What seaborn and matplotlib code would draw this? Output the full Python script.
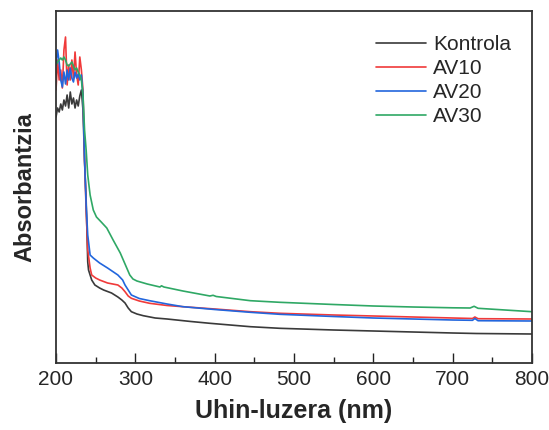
import numpy as np
import pandas as pd
import matplotlib
matplotlib.use("Agg")
import matplotlib.pyplot as plt
import seaborn as sns
from matplotlib.ticker import MultipleLocator

sns.set_theme(style="ticks")
plt.rcParams['font.family'] = ['Liberation Sans', 'DejaVu Sans']

# Wavelength (nm) and absorbance (arbitrary units)
kontrola_x = [200, 202, 204, 206, 208, 210, 212, 214, 216, 218, 220, 222, 224, 226, 228, 230, 232, 234, 236,
              238, 240, 241, 245, 249, 255, 260, 270, 278, 283, 287, 291, 295, 302, 310, 325, 340, 370, 394,
              445, 482, 550, 600, 650, 700, 730, 800]
kontrola_y = [2.46, 2.55, 2.51, 2.59, 2.53, 2.63, 2.57, 2.68, 2.55, 2.71, 2.59, 2.65, 2.55, 2.63, 2.57, 2.67,
              2.73, 2.53, 2.03, 1.63, 1.01, 0.93, 0.83, 0.78, 0.75, 0.73, 0.70, 0.66, 0.63, 0.60, 0.55, 0.513,
              0.49, 0.473, 0.45, 0.44, 0.415, 0.397, 0.363, 0.347, 0.33, 0.32, 0.31, 0.30, 0.295, 0.29]

av10_x = [200, 202, 204, 206, 208, 210, 212, 214, 216, 218, 220, 222, 224, 226, 228, 230, 232, 234, 236,
          238, 240, 243, 245, 250, 255, 265, 278, 283, 287, 291, 295, 305, 318, 340, 360, 400, 445, 482,
          550, 600, 650, 700, 725, 728, 732, 800]
av10_y = [2.73, 3.03, 2.83, 2.93, 2.75, 3.13, 3.26, 2.78, 2.98, 2.83, 3.03, 2.85, 3.11, 2.88, 2.78, 3.06,
          2.93, 2.73, 2.03, 1.53, 1.13, 0.95, 0.88, 0.85, 0.83, 0.80, 0.78, 0.75, 0.713, 0.67, 0.647, 0.62,
          0.597, 0.575, 0.563, 0.54, 0.513, 0.497, 0.48, 0.47, 0.46, 0.45, 0.445, 0.46, 0.443, 0.44]

av20_x = [200, 202, 204, 206, 208, 210, 212, 214, 216, 218, 220, 222, 224, 226, 228, 230, 232, 234, 236,
          238, 240, 243, 247, 255, 265, 278, 284, 287, 291, 295, 305, 318, 340, 360, 400, 445, 482,
          550, 600, 650, 700, 725, 728, 732, 800]
av20_y = [2.98, 3.13, 3.01, 2.83, 2.76, 2.91, 2.79, 2.93, 2.83, 2.95, 2.85, 2.81, 2.91, 2.85, 2.89, 2.83,
          2.88, 2.68, 2.03, 1.58, 1.28, 1.08, 1.05, 1.00, 0.95, 0.88, 0.83, 0.78, 0.73, 0.68, 0.645, 0.623,
          0.59, 0.563, 0.535, 0.507, 0.487, 0.465, 0.45, 0.44, 0.43, 0.427, 0.445, 0.423, 0.42]

av30_x = [200, 202, 204, 206, 208, 210, 212, 214, 216, 218, 220, 222, 224, 226, 228, 230, 232, 234, 236,
          238, 240, 243, 247, 251, 257, 264, 272, 281, 287, 293, 297, 302, 315, 331, 333, 336, 360, 394,
          398, 402, 445, 482, 550, 600, 650, 700, 722, 727, 732, 800]
av30_y = [2.98, 3.01, 3.03, 3.05, 3.03, 3.06, 3.03, 2.98, 2.97, 2.99, 3.01, 2.97, 2.93, 2.95, 2.91, 2.88,
          2.83, 2.68, 2.33, 2.13, 1.88, 1.68, 1.53, 1.46, 1.41, 1.35, 1.23, 1.10, 0.99, 0.88, 0.84, 0.82,
          0.79, 0.76, 0.772, 0.76, 0.72, 0.67, 0.677, 0.665, 0.623, 0.607, 0.585, 0.57, 0.56, 0.552, 0.55,
          0.567, 0.547, 0.513]

series_names = ["Kontrola", "AV10", "AV20", "AV30"]
series_colors = ["#3a3a3a", "#f03a3a", "#2266dd", "#2fa865"]

frames = []
for name, xs, ys in zip(series_names,
                        [kontrola_x, av10_x, av20_x, av30_x],
                        [kontrola_y, av10_y, av20_y, av30_y]):
    frames.append(pd.DataFrame({"wl": xs, "abs": ys, "sample": name}))
df = pd.concat(frames, ignore_index=True)

fig = plt.figure(figsize=(5.49, 4.30), dpi=100)
ax = fig.add_axes([56 / 549, 1 - 363 / 430, (532 - 56) / 549, (363 - 11) / 430])

sns.lineplot(data=df, x="wl", y="abs", hue="sample", hue_order=series_names,
             palette=series_colors, linewidth=1.2, ax=ax, sort=False, estimator=None)

ax.set_xlim(200, 800)
ax.set_ylim(0, 3.52)
ax.xaxis.set_major_locator(MultipleLocator(100))
ax.xaxis.set_minor_locator(MultipleLocator(50))
ax.set_yticks([])
ax.tick_params(axis='x', which='major', direction='in', length=7, width=1.0,
               labelsize=15, pad=5, color='#222222', top=False)
ax.tick_params(axis='x', which='minor', direction='in', length=4, width=1.0,
               color='#222222', top=False)
for sp in ax.spines.values():
    sp.set_visible(True)
    sp.set_linewidth(1.3)
    sp.set_color('#333333')

ax.set_xlabel("Uhin-luzera (nm)", fontsize=18, fontweight='bold', labelpad=7)
ax.set_ylabel("Absorbantzia", fontsize=17, fontweight='bold', labelpad=14)

handles, labels = ax.get_legend_handles_labels()
ax.legend(handles, labels, loc='upper right', frameon=False, fontsize=15,
          handlelength=2.4, handletextpad=0.35, labelspacing=0.24,
          bbox_to_anchor=(0.995, 0.985))

fig.savefig("out.png", dpi=100)
